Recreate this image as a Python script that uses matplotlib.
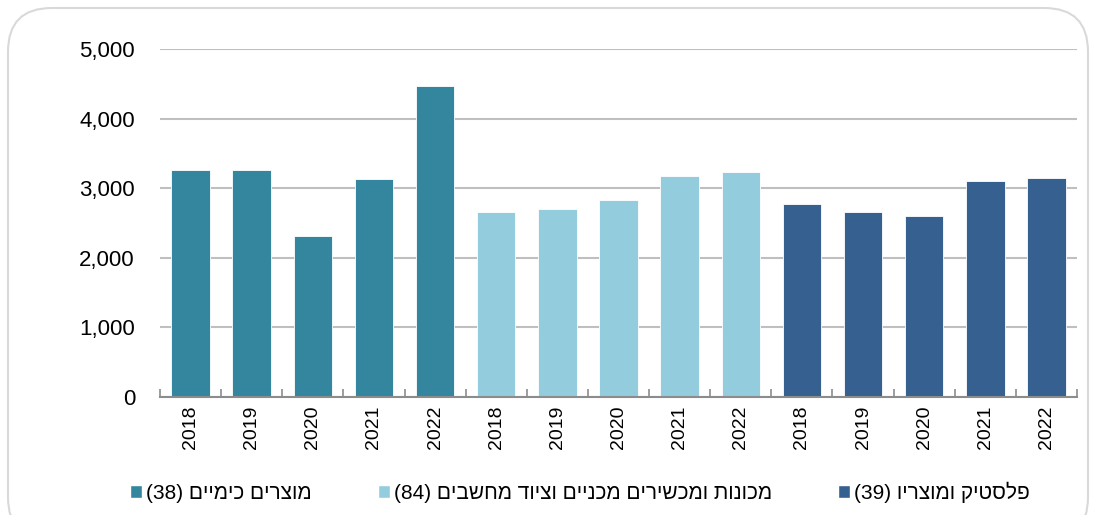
#!/usr/bin/env python
# Bar chart: three industry groups, 2018-2022

import numpy as np
import matplotlib
matplotlib.use("Agg")
import matplotlib.pyplot as plt
from matplotlib.patches import Patch, FancyBboxPatch
from matplotlib.ticker import FuncFormatter

plt.rcParams['font.family'] = ['Liberation Sans', 'DejaVu Sans']

years = ['2018', '2019', '2020', '2021', '2022']

chemVals = [3263, 3263, 2314, 3138, 4472]
machVals = [2655, 2707, 2832, 3181, 3235]
plastVals = [2779, 2655, 2597, 3109, 3153]

# labels in logical (right-to-left) order
chemLabel = "מוצרים כימיים"
machLabel = "מכונות ומכשירים מכניים וציוד מחשבים"
plastLabel = "פלסטיק ומוצריו"
chemCount = "(38)"
machCount = "(84)"
plastCount = "(39)"

chemColor = '#33869d'
machColor = '#93cddd'
plastColor = '#36608f'


def visual(heb, count):
    # matplotlib has no bidi support, so flip the hebrew text by hand
    return count + " " + heb[::-1]


def main():

    fig = plt.figure(figsize=(10.93, 5.15), dpi=100)

    # rounded frame around the whole chart
    frame = FancyBboxPatch((8 / 1093, -0.05), 1080 / 1093, 1.05 - 8 / 515,
                           boxstyle="round,pad=0,rounding_size=0.04",
                           transform=fig.transFigure, fill=False,
                           edgecolor='#d9d9d9', linewidth=1.5,
                           mutation_aspect=1093 / 515)
    fig.patches.append(frame)

    ax = fig.add_axes([160 / 1093, 1 - 397 / 515, 917 / 1093, 348 / 515])

    groups = [(chemVals, chemColor), (machVals, machColor), (plastVals, plastColor)]
    xpos = 0
    tickPos = []
    tickLab = []
    for vals, col in groups:
        xs = np.arange(xpos, xpos + len(vals))
        ax.bar(xs, vals, width=0.63, color=col, edgecolor='white',
               linewidth=0.6, zorder=3)
        tickPos.extend(xs)
        tickLab.extend(years)
        xpos += len(vals)

    ax.set_xlim(-0.5, xpos - 0.5)
    ax.set_ylim(0, 5000)
    ax.set_yticks(np.arange(0, 5001, 1000))
    ax.yaxis.set_major_formatter(FuncFormatter(lambda v, p: '{:,.0f}'.format(v)))
    ax.grid(True, axis='y', color='#bfbfbf', linewidth=1.5, zorder=0)

    ax.set_xticks(tickPos)
    ax.set_xticklabels(tickLab, rotation=90, fontsize=14)
    ax.set_xticks(np.arange(-0.5, xpos, 1.0), minor=True)
    ax.tick_params(axis='x', which='major', length=0, pad=6)
    ax.tick_params(axis='x', which='minor', direction='in', length=6,
                   color='#8c8c8c', width=1.2)
    ax.tick_params(axis='y', length=0, labelsize=16, pad=18)

    for side in ['left', 'right', 'top']:
        ax.spines[side].set_visible(False)
    ax.spines['bottom'].set_color('#8c8c8c')
    ax.spines['bottom'].set_linewidth(1.5)
    ax.spines['bottom'].set_zorder(4)

    handles = [Patch(facecolor=chemColor, edgecolor='white'),
               Patch(facecolor=machColor, edgecolor='white'),
               Patch(facecolor=plastColor, edgecolor='white')]
    labels = [visual(chemLabel, chemCount),
              visual(machLabel, machCount),
              visual(plastLabel, plastCount)]
    fig.legend(handles, labels, loc='center', ncol=3,
               bbox_to_anchor=(580 / 1093, 1 - 492 / 515),
               frameon=False, fontsize=15, handlelength=0.55,
               handleheight=0.55, handletextpad=0.2, columnspacing=3.2)

    fig.savefig('out.png', dpi=100)


if __name__ == "__main__":
    main()
